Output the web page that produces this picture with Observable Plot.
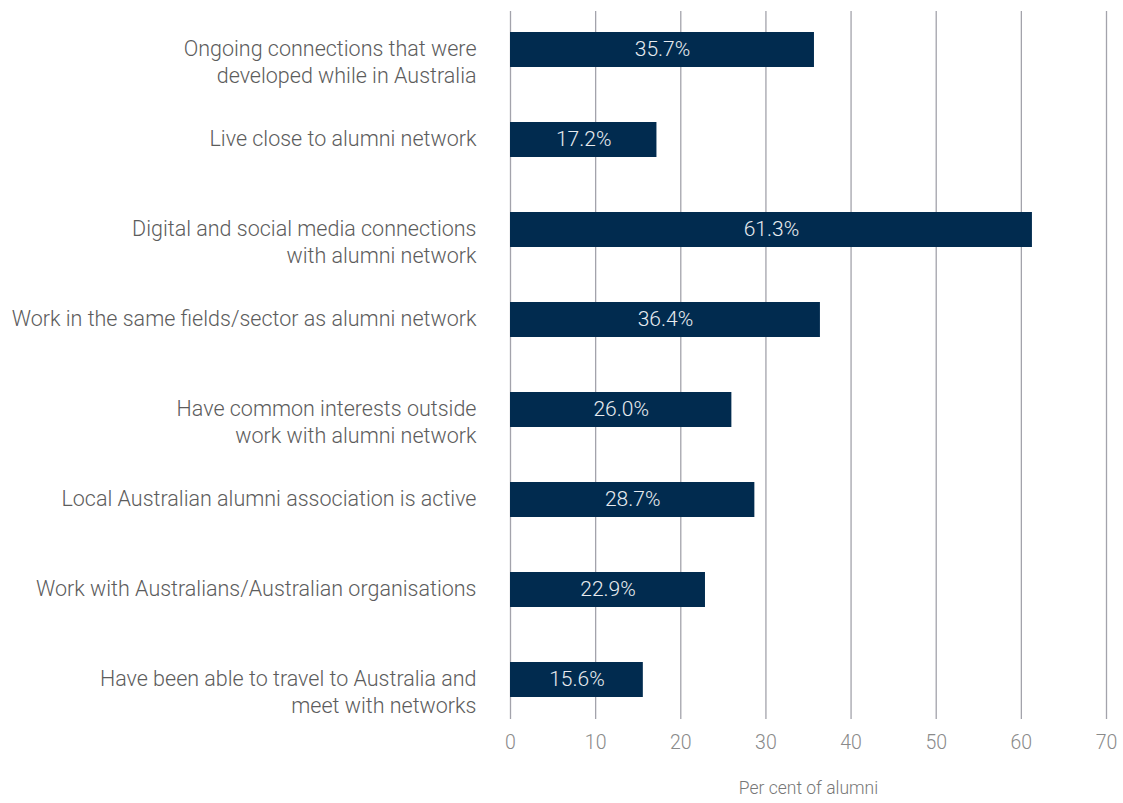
<!DOCTYPE html>
<html>
<head>
<meta charset="utf-8">
<script src="https://cdn.jsdelivr.net/npm/d3@7"></script>
<script src="https://cdn.jsdelivr.net/npm/@observablehq/plot@0.6"></script>
<style>
  html, body { margin: 0; padding: 0; background: #fff; }
</style>
</head>
<body>
<div id="chart"></div>
<script>
const categories = [
  "Ongoing connections that were\ndeveloped while in Australia",
  "Live close to alumni network",
  "Digital and social media connections\nwith alumni network",
  "Work in the same fields/sector as alumni network",
  "Have common interests outside\nwork with alumni network",
  "Local Australian alumni association is active",
  "Work with Australians/Australian organisations",
  "Have been able to travel to Australia and\nmeet with networks"
];
const values = [35.7, 17.2, 61.3, 36.4, 26.0, 28.7, 22.9, 15.6];
const xTicks = [0, 10, 20, 30, 40, 50, 60, 70];
const xLabel = "Per cent of alumni";

const data = categories.map((c, i) => ({category: c, value: values[i]}));
const font = "Roboto, 'Open Sans', Arial, sans-serif";

const chart = Plot.plot({
  width: 1123,
  height: 803,
  marginLeft: 510,
  marginRight: 17,
  marginTop: 3,
  marginBottom: 77,
  style: {fontFamily: font, fontWeight: 300, background: "#fff"},
  x: {domain: [0, 70], ticks: xTicks, label: null},
  y: {domain: categories, paddingInner: 0.613, paddingOuter: 0.305, axis: null},
  marks: [
    Plot.ruleX(xTicks, {stroke: "#a3a3ab", strokeWidth: 1.3, insetTop: 8, insetBottom: 7}),
    Plot.barX(data, {x: "value", y: "category", fill: "#012b4f"}),
    Plot.text(data, {x: d => d.value / 2, y: "category", dy: -1, text: d => d.value.toFixed(1) + "%", fill: "#e8ebf0", fontSize: 21, fontWeight: 300}),
    Plot.text(data, {x: 0, y: "category", text: "category", textAnchor: "end", lineAnchor: "top", dx: -34, dy: -14, lineHeight: 1.29, fill: "#5c5c5c", fontSize: 21.5, fontWeight: 300}),
    Plot.axisX(xTicks, {tickSize: 0, tickPadding: 9, fontSize: 19.5, fill: "#8a8a8a", fontWeight: 300, label: null, tickFormat: d => d}),
    Plot.text([xLabel], {x: 35, frameAnchor: "bottom", dy: 67, text: d => d, fontSize: 17.5, fill: "#777", fontWeight: 300})
  ]
});
document.getElementById("chart").appendChild(chart);
</script>
</body>
</html>
